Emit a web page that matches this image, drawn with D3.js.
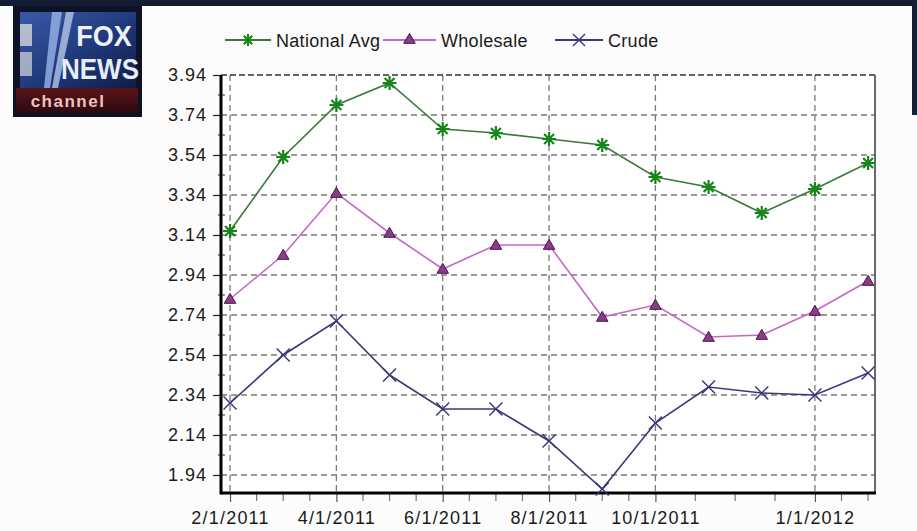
<!DOCTYPE html>
<html>
<head>
<meta charset="utf-8">
<script src="https://cdn.jsdelivr.net/npm/d3@7"></script>
<style>
  html, body { margin: 0; padding: 0; background: #fcfcfc; }
  svg { display: block; }
  text { font-family: "Liberation Sans", Arial, sans-serif; }
</style>
</head>
<body>
<svg id="chart" width="917" height="531"></svg>
<script>
// Monthly gasoline / crude prices, Feb 2011 - Feb 2012
const months = ["2/1/2011", "3/1/2011", "4/1/2011", "5/1/2011", "6/1/2011", "7/1/2011",
  "8/1/2011", "9/1/2011", "10/1/2011", "11/1/2011", "12/1/2011", "1/1/2012", "2/1/2012"];
const nationalAvg = [3.16, 3.53, 3.79, 3.90, 3.67, 3.65, 3.62, 3.59, 3.43, 3.38, 3.25, 3.37, 3.50];
const wholesale   = [2.82, 3.04, 3.35, 3.15, 2.97, 3.09, 3.09, 2.73, 2.79, 2.63, 2.64, 2.76, 2.91];
const crude       = [2.30, 2.54, 2.71, 2.44, 2.27, 2.27, 2.11, 1.87, 2.20, 2.38, 2.35, 2.34, 2.45];
const seriesNames = ["National Avg", "Wholesale", "Crude"];
const xTickLabels = ["2/1/2011", "4/1/2011", "6/1/2011", "8/1/2011", "10/1/2011", "1/1/2012"];
const yTickLabels = ["1.94", "2.14", "2.34", "2.54", "2.74", "2.94", "3.14", "3.34", "3.54", "3.74", "3.94"];

const svg = d3.select("#chart");

// ---- dark broadcast frame ----
svg.append("rect").attr("x", 0).attr("y", 0).attr("width", 917).attr("height", 6).attr("fill", "#121d33");
svg.append("rect").attr("x", 912).attr("y", 0).attr("width", 5).attr("height", 115).attr("fill", "#162238");

// ---- channel logo ----
const defs = svg.append("defs");
const lg = defs.append("linearGradient").attr("id", "logoBlue").attr("x1", 0).attr("y1", 0).attr("x2", 1).attr("y2", 1);
lg.append("stop").attr("offset", "0%").attr("stop-color", "#3a5aa8");
lg.append("stop").attr("offset", "60%").attr("stop-color", "#1d3575");
lg.append("stop").attr("offset", "100%").attr("stop-color", "#0f1d45");
const rg = defs.append("linearGradient").attr("id", "logoRed").attr("x1", 0).attr("y1", 0).attr("x2", 0).attr("y2", 1);
rg.append("stop").attr("offset", "0%").attr("stop-color", "#5a1518");
rg.append("stop").attr("offset", "100%").attr("stop-color", "#2a0a10");

const logo = svg.append("g");
logo.append("rect").attr("x", 13).attr("y", 6).attr("width", 129).attr("height", 111).attr("fill", "#0c1328");
logo.append("rect").attr("x", 20).attr("y", 12).attr("width", 116).attr("height", 76).attr("fill", "url(#logoBlue)");
logo.append("path").attr("d", "M52,12 L62,12 L50,88 L44,88 Z").attr("fill", "#9ab4e8").attr("opacity", 0.8);
logo.append("path").attr("d", "M66,12 L74,12 L58,88 L52,88 Z").attr("fill", "#c8d8f5").attr("opacity", 0.7);
logo.append("rect").attr("x", 20).attr("y", 24).attr("width", 12).attr("height", 22).attr("fill", "#c9cfd8").attr("opacity", 0.85);
logo.append("rect").attr("x", 20).attr("y", 52).attr("width", 12).attr("height", 24).attr("fill", "#c9cfd8").attr("opacity", 0.75);
logo.append("text").attr("x", 104).attr("y", 46).attr("text-anchor", "middle")
  .attr("font-size", 27).attr("font-weight", "bold").attr("fill", "#eef1f7")
  .attr("transform", "translate(104,46) scale(1,1.1) translate(-104,-46)").text("FOX");
logo.append("text").attr("x", 100).attr("y", 79).attr("text-anchor", "middle")
  .attr("font-size", 26).attr("font-weight", "bold").attr("fill", "#e8ecf5")
  .attr("transform", "translate(100,79) scale(1,1.1) translate(-100,-79)").text("NEWS");
logo.append("rect").attr("x", 16).attr("y", 88).attr("width", 122).attr("height", 25).attr("fill", "url(#logoRed)");
logo.append("text").attr("x", 68).attr("y", 107).attr("text-anchor", "middle")
  .attr("font-size", 17).attr("font-weight", "bold").attr("letter-spacing", 1.5)
  .attr("fill", "#f2c0c0").text("channel");

// ---- plot geometry ----
const plot = { left: 221, right: 875, top: 75, bottom: 493 };
const x = d3.scaleLinear().domain([-0.17, 12.13]).range([plot.left, plot.right]);
const y = d3.scaleLinear().domain([1.85, 3.94]).range([plot.bottom, plot.top]);

const majorIdx = xTickLabels.map(l => months.indexOf(l));
// quarter-interval minor ticks between labelled dates (the last step runs to 3/1/2012)
const stops = majorIdx.concat([13]);
const minorIdx = [];
for (let i = 0; i < stops.length - 1; i++) {
  for (let k = 1; k < 4; k++) minorIdx.push(stops[i] + (stops[i + 1] - stops[i]) * k / 4);
}
const minorIn = minorIdx.filter(v => v <= 12.13);

svg.append("rect").attr("x", plot.left).attr("y", plot.top)
  .attr("width", plot.right - plot.left).attr("height", plot.bottom - plot.top).attr("fill", "#ffffff");

// horizontal grid
const yVals = yTickLabels.map(Number);
svg.append("g").selectAll("line").data(yVals.filter(v => v < 3.94)).join("line")
  .attr("x1", plot.left).attr("x2", plot.right)
  .attr("y1", d => y(d)).attr("y2", d => y(d))
  .attr("stroke", "#7a7a7a").attr("stroke-width", 1.3).attr("stroke-dasharray", "6,4");
// vertical grid at labelled dates
svg.append("g").selectAll("line").data(majorIdx).join("line")
  .attr("x1", d => x(d)).attr("x2", d => x(d))
  .attr("y1", plot.top).attr("y2", plot.bottom)
  .attr("stroke", "#7a7a7a").attr("stroke-width", 1.3).attr("stroke-dasharray", "6,4");

// top edge (dashed, darker) and right edge
svg.append("line").attr("x1", plot.left).attr("x2", plot.right).attr("y1", plot.top).attr("y2", plot.top)
  .attr("stroke", "#333").attr("stroke-width", 1.6).attr("stroke-dasharray", "6,3");
svg.append("line").attr("x1", plot.right).attr("x2", plot.right).attr("y1", plot.top).attr("y2", plot.bottom)
  .attr("stroke", "#444").attr("stroke-width", 1.6);

// y axis
const yAxis = d3.axisLeft(y).tickValues(yVals).tickFormat((d, i) => yTickLabels[i]).tickSize(8).tickPadding(6);
const gy = svg.append("g").attr("transform", `translate(${plot.left},0)`).call(yAxis);
gy.select(".domain").remove();
gy.selectAll(".tick line").attr("stroke", "#222").attr("stroke-width", 1.2);
gy.selectAll(".tick text").attr("font-size", 18).attr("fill", "#1a1a1a").attr("letter-spacing", 1);
// y minor ticks
svg.append("g").selectAll("line").data(yVals.slice(0, -1).map(v => v + 0.1)).join("line")
  .attr("x1", plot.left - 3).attr("x2", plot.left + 4)
  .attr("y1", d => y(d)).attr("y2", d => y(d)).attr("stroke", "#333").attr("stroke-width", 1);

// x axis
const xAxis = d3.axisBottom(x).tickValues(majorIdx).tickFormat((d, i) => xTickLabels[i]).tickSize(9).tickPadding(9);
const gx = svg.append("g").attr("transform", `translate(0,${plot.bottom})`).call(xAxis);
gx.select(".domain").remove();
gx.selectAll(".tick line").attr("stroke", "#555").attr("stroke-width", 1.2);
gx.selectAll(".tick text").attr("font-size", 18).attr("fill", "#1a1a1a").attr("letter-spacing", 1.2);
svg.append("g").selectAll("line").data(minorIn).join("line")
  .attr("x1", d => x(d)).attr("x2", d => x(d))
  .attr("y1", plot.bottom).attr("y2", plot.bottom + 8)
  .attr("stroke", "#777").attr("stroke-width", 1.2);

// heavy axis lines
svg.append("line").attr("x1", plot.left).attr("x2", plot.right + 1).attr("y1", plot.bottom).attr("y2", plot.bottom)
  .attr("stroke", "#000").attr("stroke-width", 3);
svg.append("line").attr("x1", plot.left).attr("x2", plot.left).attr("y1", plot.top).attr("y2", plot.bottom + 1.5)
  .attr("stroke", "#000").attr("stroke-width", 3);

// ---- markers ----
function star(g, cx, cy, r, color) {
  const p = d3.path();
  for (let a = 0; a < 4; a++) {
    const t = a * Math.PI / 4;
    p.moveTo(cx - r * Math.cos(t), cy - r * Math.sin(t));
    p.lineTo(cx + r * Math.cos(t), cy + r * Math.sin(t));
  }
  g.append("path").attr("d", p.toString()).attr("stroke", color).attr("stroke-width", 2.2).attr("fill", "none");
}
function cross(g, cx, cy, r, color) {
  const p = d3.path();
  p.moveTo(cx - r, cy - r); p.lineTo(cx + r, cy + r);
  p.moveTo(cx - r, cy + r); p.lineTo(cx + r, cy - r);
  g.append("path").attr("d", p.toString()).attr("stroke", color).attr("stroke-width", 1.4).attr("fill", "none");
}
function tri(g, cx, cy) {
  g.append("path").attr("d", d3.symbol(d3.symbolTriangle, 58)())
    .attr("transform", `translate(${cx},${cy + 1})`)
    .attr("fill", "#8c3a8c").attr("stroke", "#4a1a4a").attr("stroke-width", 1);
}

const series = [
  { name: seriesNames[0], values: nationalAvg, line: "#3a7a3a", mark: "#17861a", kind: "star" },
  { name: seriesNames[1], values: wholesale,   line: "#c468c4", mark: "#8c3a8c", kind: "tri" },
  { name: seriesNames[2], values: crude,       line: "#3a3a78", mark: "#35357a", kind: "cross" }
];

const line = d3.line().x((d, i) => x(i)).y(d => y(d));
series.forEach(s => {
  const g = svg.append("g");
  g.append("path").datum(s.values).attr("d", line)
    .attr("fill", "none").attr("stroke", s.line).attr("stroke-width", 1.6);
  s.values.forEach((v, i) => {
    if (s.kind === "star") star(g, x(i), y(v), 7, s.mark);
    else if (s.kind === "tri") tri(g, x(i), y(v));
    else cross(g, x(i), y(v), 6.5, s.mark);
  });
});

// ---- legend ----
const legendPos = [{ x: 225, w: 46 }, { x: 383, w: 53 }, { x: 555, w: 48 }];
const ly = 40;
series.forEach((s, i) => {
  const lp = legendPos[i];
  const g = svg.append("g");
  g.append("line").attr("x1", lp.x).attr("x2", lp.x + lp.w).attr("y1", ly).attr("y2", ly)
    .attr("stroke", s.line).attr("stroke-width", 1.8);
  const cx = lp.x + lp.w / 2;
  if (s.kind === "star") star(g, cx, ly, 6, s.mark);
  else if (s.kind === "tri") tri(g, cx, ly - 1);
  else cross(g, cx, ly, 6, s.mark);
  g.append("text").attr("x", lp.x + lp.w + 5).attr("y", ly + 6.5)
    .attr("font-size", 18).attr("fill", "#1a1a1a").attr("letter-spacing", 0.3).text(s.name);
});
</script>
</body>
</html>
